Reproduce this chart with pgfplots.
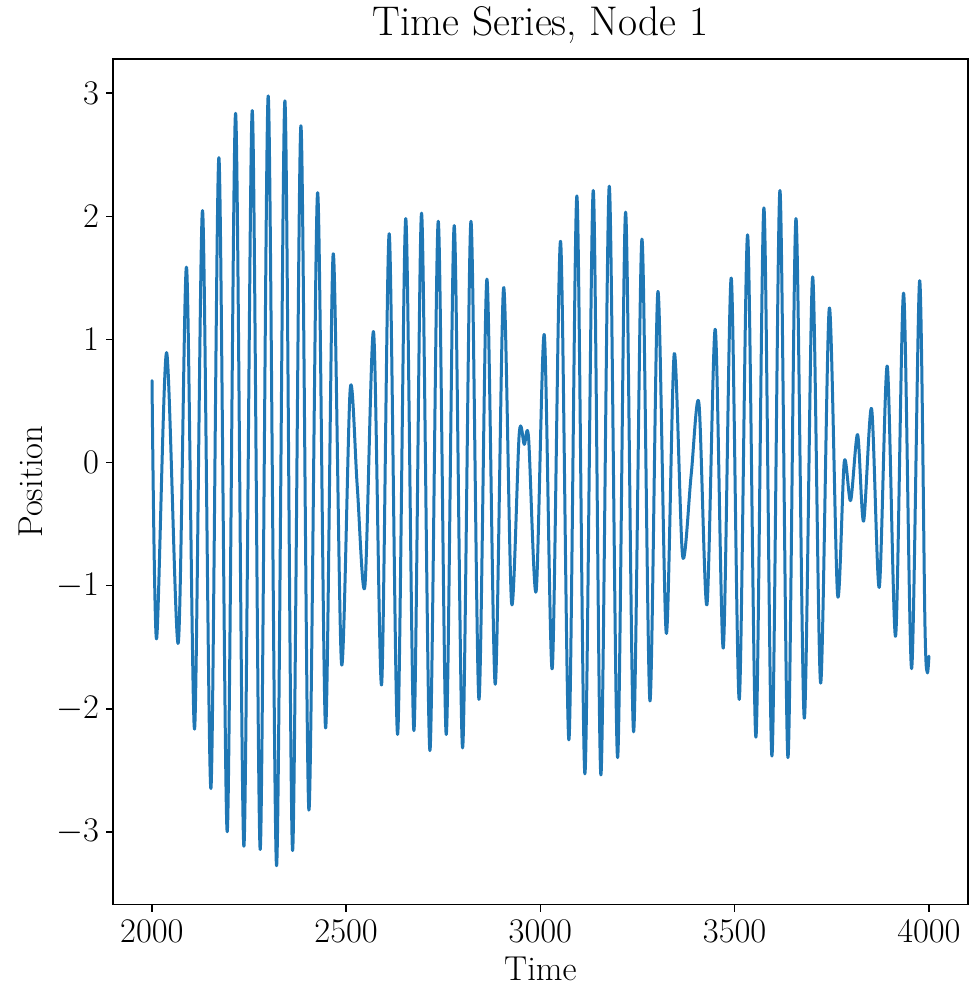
\documentclass[border=0pt]{standalone}
\usepackage{pgfplots}
\pgfplotsset{compat=1.18}
\definecolor{mplblue}{HTML}{1F77B4}
\begin{document}
\begin{tikzpicture}
\begin{axis}[
  scale only axis,
  width=427.5pt, height=423pt,
  xmin=1900, xmax=4100,
  ymin=-3.59, ymax=3.28,
  xtick={2000,2500,3000,3500,4000},
  ytick={-3,-2,-1,0,1,2,3},
  xtick pos=bottom, ytick pos=left,
  tick align=outside,
  major tick length=3.5pt,
  tick style={black, line width=0.8pt},
  axis line style={line width=0.8pt},
  /pgf/number format/1000 sep={},
  ticklabel style={font=\LARGE},
  xticklabel style={yshift=-1pt},
  label style={font=\LARGE},
  title style={font=\huge, yshift=-2pt},
  title={Time Series, Node 1},
  xlabel={Time},
  ylabel={Position},
]
\addplot[mplblue, line width=1.5pt, smooth, tension=0.5, line join=round, line cap=round] table {
x y
2000.3 0.665
2012 -1.432
2037.8 0.893
2067.8 -1.467
2089.2 1.587
2109.8 -2.165
2130.4 2.047
2151.9 -2.648
2172.5 2.477
2193.9 -2.999
2215.4 2.837
2236.8 -3.117
2258.3 2.859
2278.8 -3.143
2299.4 2.978
2320.9 -3.275
2342.3 2.938
2362.1 -3.152
2383.5 2.736
2404.1 -2.823
2426.4 2.192
2447 -2.156
2466.7 1.696
2488.2 -1.638
2510.5 0.599
2528.5 -0.19
2548.3 -1.002
2570.6 1.06
2591.2 -1.805
2610.9 1.859
2632.4 -2.209
2653.4 1.982
2674.4 -2.178
2694.1 2.026
2715.6 -2.34
2737 1.96
2757.6 -2.209
2778.2 1.925
2799.7 -2.318
2821.1 1.96
2841.7 -1.924
2862.3 1.49
2883.7 -1.801
2905.2 1.42
2925.8 -1.143
2945.5 0.235
2958.4 0.147
2969.5 0.2
2989 -1.046
3009.9 1.038
3030.4 -1.674
3051.9 1.797
3073.4 -2.253
3093.9 2.166
3114.5 -2.529
3136 2.21
3155.7 -2.538
3177.2 2.245
3198.6 -2.397
3219.2 2.034
3239.8 -2.187
3261.3 1.815
3281.9 -1.937
3302.4 1.389
3324 -1.388
3344.5 0.885
3366 -0.761
3388 -0.10
3408 0.481
3428.6 -1.156
3450 1.082
3470.6 -1.507
3491.2 1.499
3511.8 -1.924
3533.3 1.85
3554.7 -2.231
3575.3 2.069
3595.9 -2.384
3616.5 2.21
3637.1 -2.397
3657.7 1.982
3679.1 -2.077
3700.6 1.508
3721.2 -1.792
3743.5 1.253
3764.9 -1.077
3782.1 0.007
3798.4 -0.309
3816.4 0.227
3831.8 -0.476
3852.4 0.437
3872.1 -1.015
3892.7 0.784
3914.2 -1.41
3934.8 1.376
3955.4 -1.674
3976 1.477
3989.7 -1.31
3995.7 -1.704
4000 -1.573
};
\end{axis}
\path (current bounding box.south west) ++(-6pt,0pt);
\end{tikzpicture}
\end{document}
